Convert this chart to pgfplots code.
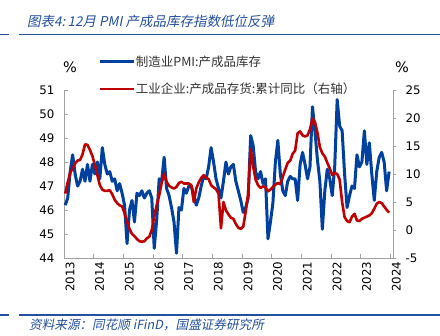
\documentclass[border=0pt]{standalone}
\usepackage{pgfplots}
\pgfplotsset{compat=1.18}
\usepackage{pgfplotstable}
\usepackage{fontspec}
\setmainfont{DejaVu Sans}
\newfontfamily\cjk{Noto Sans CJK SC}
\newfontfamily\cjkit{Noto Sans CJK SC}[FakeSlant=0.2]
\definecolor{pmiblue}{RGB}{0,65,160}
\definecolor{invred}{RGB}{192,0,0}
\definecolor{titleblue}{RGB}{35,80,160}
\definecolor{axgray}{RGB}{160,160,160}

\pgfplotstableread{
k pmi inv
0 46.2 6.5
1 46.5 8.5
2 47.6 10.2
3 48.3 11.0
4 47.5 11.9
5 47.0 12.4
6 47.2 12.5
7 47.7 13.5
8 47.2 15.3
9 47.9 15.2
10 47.2 14.3
11 47.9 13.2
12 47.5 11.6
13 48.0 9.8
14 47.3 8.0
15 48.6 7.2
16 47.9 7.0
17 47.5 7.0
18 47.6 7.1
19 47.2 6.4
20 47.3 5.4
21 46.8 4.8
22 47.1 4.4
23 46.7 4.2
24 46.2 3.0
25 44.6 1.5
26 46.0 0.2
27 46.4 -0.7
28 45.5 -1.1
29 46.7 -1.6
30 46.6 -2.0
31 46.8 -2.1
32 46.5 -2.0
33 46.7 -1.5
34 46.8 -1.2
35 46.5 0.0
36 44.4 2.4
37 45.6 4.5
38 47.3 6.2
39 47.2 8.4
40 48.2 10.1
41 46.9 8.6
42 46.6 7.9
43 46.1 7.6
44 45.5 7.4
45 44.2 7.7
46 46.1 8.4
47 46.0 8.6
48 46.9 8.3
49 46.7 8.3
50 47.0 8.3
51 47.0 8.0
52 46.6 5.0
53 46.2 7.4
54 46.5 8.5
55 47.0 9.3
56 47.4 9.8
57 47.3 9.3
58 47.8 9.1
59 48.6 8.0
60 48.0 7.6
61 47.3 7.3
62 46.9 6.5
63 46.5 0.3
64 47.2 5.0
65 48.0 3.5
66 47.5 2.8
67 47.8 2.2
68 47.9 2.0
69 47.2 1.1
70 46.8 0.4
71 46.4 0.2
72 45.9 0.6
73 46.1 3.3
74 46.5 6.5
75 49.1 14.5
76 48.7 11.4
77 47.6 9.0
78 47.3 8.0
79 47.6 7.5
80 47.1 7.8
81 47.3 7.6
82 44.8 6.9
83 45.5 7.2
84 46.3 7.7
85 48.0 8.1
86 48.9 8.4
87 47.5 8.2
88 46.8 9.5
89 46.6 10.8
90 47.2 12.0
91 47.4 12.4
92 47.3 13.6
93 47.3 14.2
94 46.4 17.3
95 47.9 17.6
96 48.4 16.9
97 47.9 16.7
98 47.3 16.9
99 47.8 18.0
100 50.3 19.9
101 49.3 19.3
102 48.1 17.4
103 47.2 14.8
104 45.2 13.7
105 46.8 13.1
106 47.7 12.0
107 47.3 11.0
108 46.6 9.8
109 47.8 10.2
110 50.6 10.0
111 49.5 9.0
112 49.3 5.0
113 47.5 2.3
114 46.1 1.6
115 46.6 1.4
116 47.0 2.4
117 46.9 2.9
118 48.3 1.7
119 47.8 1.6
120 48.0 2.0
121 49.3 2.2
122 47.9 2.4
123 48.8 2.6
124 47.5 3.0
125 46.4 3.8
126 47.6 4.7
127 48.2 5.0
128 48.4 4.8
129 48.0 4.2
130 46.8 3.6
131 47.6 3.1
}\datatable

\begin{document}
\begin{tikzpicture}[x=1bp,y=1bp]
\fill[white] (0,0) rectangle (440,335);
\path[use as bounding box] (0,0) rectangle (440,335);

% title
\node[anchor=west, text=titleblue, inner sep=0pt] at (27,313.5)
  {\cjkit\fontsize{13.5bp}{16bp}\selectfont 图表4:\,12月 PMI 产成品库存指数低位反弹};
\draw[titleblue, line width=1.3bp] (0,300.7) -- (9,300.7);
\draw[titleblue, line width=1.3bp] (19,300.7) -- (440,300.7);
% source
\draw[titleblue, line width=1.3bp] (0,20) -- (9,20);
\draw[titleblue, line width=1.3bp] (19,20) -- (440,20);
\node[anchor=west, text=titleblue, inner sep=0pt] at (29,10)
  {\cjkit\fontsize{12.6bp}{14bp}\selectfont 资料来源：同花顺 iFinD，国盛证券研究所};

% percent signs
\node[inner sep=0pt] at (70,268) {\fontsize{14.5bp}{16bp}\selectfont \%};
\node[inner sep=0pt] at (402,268) {\fontsize{14.5bp}{16bp}\selectfont \%};

\begin{axis}[
  at={(64bp,77bp)}, anchor=south west, scale only axis,
  width=329bp, height=168bp,
  xmin=2013, xmax=2024.09, ymin=44, ymax=51,
  axis x line*=bottom, axis y line*=left,
  axis line style={axgray, line width=0.9bp, -},
  xtick={2013,...,2024}, ytick={44,...,51},
  tick align=inside, major tick length=4bp,
  tick style={axgray, line width=0.9bp},
  /pgf/number format/assume math mode=true,
  /pgf/number format/1000 sep={},
  xticklabel style={rotate=90, anchor=east, yshift=-6bp,
    font=\fontsize{11.8bp}{13bp}\selectfont},
  yticklabel style={xshift=-6bp, font=\fontsize{11.8bp}{13bp}\selectfont},
  clip=false,
]
\addplot[pmiblue, line width=3bp, line join=round] table[x expr={2013+(\thisrow{k}+0.5)/12}, y=pmi] {\datatable};
\end{axis}

\begin{axis}[
  at={(64bp,77bp)}, anchor=south west, scale only axis,
  width=329bp, height=168bp,
  xmin=2013, xmax=2024.09, ymin=-5, ymax=25,
  axis x line=none, axis y line*=right,
  axis line style={axgray, line width=0.9bp, -},
  ytick={-5,0,...,25},
  tick align=outside, major tick length=3bp,
  tick style={axgray, line width=0.9bp},
  /pgf/number format/assume math mode=true,
  yticklabel style={xshift=6bp, font=\fontsize{11.8bp}{13bp}\selectfont},
  legend style={at={(0.106,1.205)}, anchor=north west, draw=none, fill=none,
    inner sep=0pt, outer sep=0pt, row sep=15.5bp,
    nodes={inner sep=0pt, text=black!80},
    font=\cjk\fontsize{12.5bp}{15bp}\selectfont,
    /tikz/every even column/.append style={column sep=5bp}},
  legend cell align=left,
  legend image code/.code={\draw[#1] (0bp,0bp) -- (34bp,0bp);},
  clip=false,
]
\addlegendimage{pmiblue, line width=3bp}
\addlegendentry{制造业PMI:产成品库存}
\addplot[invred, line width=2.6bp, line join=round] table[x expr={2013+(\thisrow{k}+0.5)/12}, y=inv] {\datatable};
\addlegendentry{工业企业:产成品存货:累计同比（右轴）}
\end{axis}
\end{tikzpicture}
\end{document}
